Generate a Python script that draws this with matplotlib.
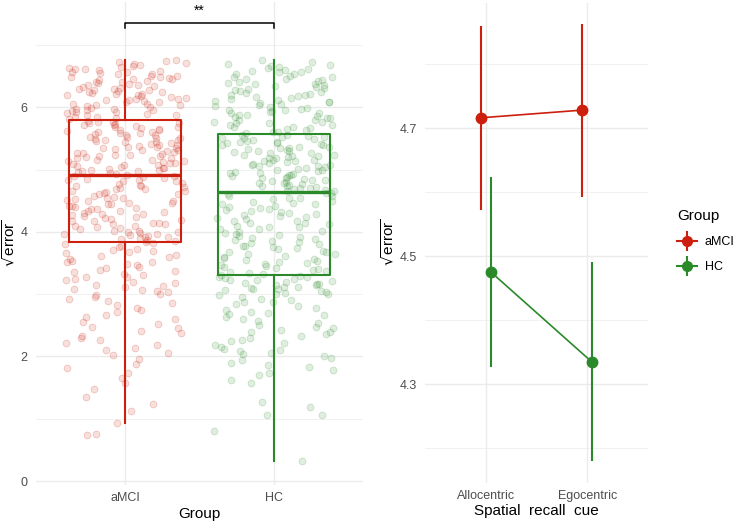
import matplotlib
matplotlib.use("Agg")
import matplotlib.pyplot as plt
from matplotlib.lines import Line2D
from matplotlib.legend_handler import HandlerTuple
import numpy as np

plt.rcParams["font.family"] = ["Liberation Sans", "DejaVu Sans"]
plt.rcParams["mathtext.fontset"] = "dejavusans"

RED = "#CD1F0D"
GREEN = "#2A8A2A"
GRID = "#EBEBEB"
TICK = "#4D4D4D"

# ---- left panel: sqrt(error) per participant group ----
groups = ["aMCI", "HC"]

amci_points = [
    0.74, 0.75, 0.93, 1.12, 1.24, 1.35, 1.48, 1.57, 1.66, 1.73, 1.81, 1.88, 1.96,
    2.02, 2.05, 2.10, 2.14, 2.18, 2.21, 2.26, 2.30, 2.33, 2.37, 2.41, 2.45, 2.48,
    2.52, 2.56, 2.60, 2.63, 2.67, 2.71, 2.74, 2.78, 2.82, 2.86, 2.89, 2.93, 2.96, 2.99,
    3.01, 3.03, 3.06, 3.08, 3.11, 3.13, 3.15, 3.18, 3.20, 3.23, 3.25, 3.27, 3.30,
    3.32, 3.35, 3.37, 3.39, 3.42, 3.44, 3.47, 3.49, 3.51, 3.54, 3.56, 3.59, 3.61,
    3.63, 3.66, 3.68, 3.71, 3.73, 3.75, 3.78, 3.80, 3.82, 3.83, 3.05, 3.28, 3.52, 3.70,
    3.85, 3.88, 3.90, 3.93, 3.96, 3.98, 4.01, 4.04, 4.06, 4.09, 4.12, 4.14, 4.17,
    4.20, 4.22, 4.25, 4.28, 4.30, 4.33, 4.36, 4.38, 4.41, 4.44, 4.46, 4.49, 4.52,
    4.54, 4.57, 4.60, 4.62, 4.65, 4.68, 4.70, 4.73, 4.76, 4.78, 4.81, 4.84, 4.86, 4.89,
    3.87, 3.92, 3.97, 4.02, 4.08, 4.13, 4.18, 4.24, 4.29, 4.34, 4.40, 4.45, 4.50,
    4.56, 4.61, 4.66, 4.72, 4.77, 4.82, 4.88, 3.91, 4.00, 4.10, 4.19, 4.27, 4.37,
    4.47, 4.55, 4.64, 4.74, 4.83, 4.90, 3.95, 4.15, 4.32, 4.51, 4.69, 4.85, 3.99, 4.42,
    4.92, 4.95, 4.97, 4.99, 5.02, 5.04, 5.06, 5.09, 5.11, 5.13, 5.16, 5.18, 5.20,
    5.23, 5.25, 5.27, 5.30, 5.32, 5.34, 5.37, 5.39, 5.41, 5.44, 5.46, 5.48, 5.51,
    5.53, 5.55, 5.58, 5.60, 5.62, 5.65, 5.67, 5.69, 5.72, 5.74, 5.76, 5.78,
    4.93, 4.98, 5.01, 5.07, 5.10, 5.15, 5.19, 5.22, 5.28, 5.31, 5.35, 5.40, 5.43,
    5.47, 5.50, 5.56, 5.59, 5.63, 5.68, 5.71, 5.75, 4.96, 5.03, 5.08, 5.14, 5.21,
    5.26, 5.33, 5.38, 5.45, 5.52, 5.57, 5.64, 5.70, 5.77, 5.00, 5.12, 5.24, 5.36,
    5.49, 5.61, 5.73,
    5.81, 5.84, 5.85, 5.88, 5.90, 5.93, 5.95, 5.96, 5.99, 6.02, 6.03, 6.05, 6.08,
    6.09, 6.12, 6.13, 6.15, 6.18, 6.20, 6.21, 6.24, 6.26, 6.27, 6.30, 6.33, 6.34,
    6.36, 6.39, 6.41, 6.42, 6.45, 6.47, 6.50, 6.51, 6.54, 6.56, 6.58, 6.61, 6.63,
    6.66, 6.68, 6.71, 6.73, 6.76, 5.82, 5.87, 5.92, 5.98, 6.00, 6.06, 6.11, 6.16,
    6.19, 6.23, 6.28, 6.31, 6.37, 6.40, 6.44, 6.48, 6.53, 6.57, 6.60, 6.64, 6.69,
    6.74, 5.89, 5.97, 6.04, 6.14, 6.22, 6.29, 6.35, 6.46, 6.55, 6.62, 5.94, 6.10,
    6.25, 6.49,
]
hc_points = [
    0.32, 0.80, 1.06, 1.06, 1.19, 1.27, 1.57, 1.62, 1.70, 1.74, 1.78, 1.83, 1.86,
    1.90, 1.94, 1.98,
    2.01, 2.04, 2.06, 2.09, 2.12, 2.15, 2.18, 2.21, 2.24, 2.27, 2.30, 2.33, 2.36,
    2.39, 2.42, 2.45, 2.48, 2.51, 2.54, 2.57, 2.60, 2.63, 2.66, 2.69, 2.72, 2.75,
    2.78, 2.81, 2.84, 2.87, 2.90, 2.93, 2.96, 2.99, 2.11, 2.40, 2.68, 2.88,
    3.00, 3.02, 3.03, 3.05, 3.06, 3.08, 3.09, 3.11, 3.12, 3.14, 3.15, 3.17, 3.18,
    3.20, 3.21, 3.23, 3.24, 3.26, 3.27, 3.29, 3.30, 3.01, 3.10, 3.16, 3.22, 3.28,
    3.32, 3.35, 3.38, 3.42, 3.45, 3.48, 3.52, 3.55, 3.58, 3.62, 3.65, 3.68, 3.72,
    3.75, 3.78, 3.82, 3.85, 3.88, 3.92, 3.95, 3.98, 4.02, 4.05, 4.08, 4.12, 4.15,
    4.18, 4.22, 4.25, 4.28, 4.32, 4.35, 4.38, 4.42, 4.45, 4.48, 4.52, 4.55, 4.58, 4.62,
    3.34, 3.40, 3.47, 3.54, 3.60, 3.67, 3.74, 3.80, 3.87, 3.94, 4.00, 4.07, 4.14,
    4.20, 4.27, 4.34, 4.40, 4.47, 4.54, 4.60, 3.37, 3.50, 3.64, 3.77, 3.90, 4.04,
    4.17, 4.30, 4.44, 4.57, 3.44, 3.70, 3.97, 4.24, 4.50, 3.57, 3.84, 4.10, 4.37, 4.63,
    4.65, 4.67, 4.70, 4.72, 4.74, 4.77, 4.79, 4.81, 4.84, 4.86, 4.88, 4.91, 4.93,
    4.95, 4.98, 5.00, 5.02, 5.05, 5.07, 5.09, 5.12, 5.14, 5.16, 5.19, 5.21, 5.23,
    5.26, 5.28, 5.30, 5.33, 5.35, 5.37, 5.40, 5.42, 5.44, 5.47, 5.49, 5.51, 5.54, 5.56,
    4.66, 4.71, 4.76, 4.80, 4.85, 4.90, 4.94, 4.99, 5.04, 5.08, 5.13, 5.18, 5.22,
    5.27, 5.31, 5.36, 5.41, 5.45, 5.50, 5.55, 4.69, 4.78, 4.87, 4.96, 5.06, 5.15,
    5.24, 5.34, 5.43, 5.52, 4.73, 4.92, 5.10, 5.29, 5.46, 4.83, 5.01, 5.20, 5.39, 5.53,
    5.58, 5.61, 5.63, 5.66, 5.69, 5.72, 5.74, 5.77, 5.80, 5.83, 5.85, 5.88, 5.91,
    5.94, 5.96, 5.99, 6.02, 6.05, 6.07, 6.10, 6.13, 6.16, 6.18, 6.21, 6.24, 6.27,
    6.29, 6.32, 6.35, 6.38, 6.40, 6.43, 6.46, 6.49, 6.51, 6.54, 6.57, 6.60, 6.63,
    6.66, 6.69, 6.72, 6.76, 5.60, 5.65, 5.71, 5.76, 5.82, 5.87, 5.93, 5.98, 6.04,
    6.09, 6.15, 6.20, 6.26, 6.31, 6.37, 6.42, 6.48, 6.53, 6.59, 6.64, 5.68, 5.79,
    5.90, 6.01, 6.12, 6.23, 6.34, 6.45, 6.56, 6.68, 5.75, 5.95, 6.19, 6.39, 6.61,
    5.86, 6.08,
]

# box summaries
box_whislo = [0.93, 0.32]
box_q1 = [3.84, 3.31]
box_med = [4.91, 4.64]
box_q3 = [5.79, 5.57]
box_whishi = [6.76, 6.76]
signif_label = "**"

# ---- right panel: mean +/- CI by recall cue ----
cues = ["Allocentric", "Egocentric"]
amci_mean = [4.716, 4.728]
amci_lo = [4.572, 4.592]
amci_hi = [4.859, 4.862]
hc_mean = [4.475, 4.334]
hc_lo = [4.327, 4.180]
hc_hi = [4.623, 4.491]


def style_axis(ax):
    ax.set_facecolor("white")
    for s in ax.spines.values():
        s.set_visible(False)
    ax.tick_params(length=0, labelsize=9, labelcolor=TICK)
    ax.tick_params(axis="y", pad=6)
    ax.tick_params(axis="x", pad=5)
    ax.grid(True, which="major", color=GRID, lw=1.0, zorder=0)
    ax.grid(True, which="minor", axis="y", color=GRID, lw=0.5, zorder=0)
    ax.set_axisbelow(True)


def jitter_offsets(n, width=0.82, seed=0.0):
    # deterministic sine-hash spread in place of ggplot's jitter
    k = np.arange(n) + seed
    u = np.abs(np.sin(k * 12.9898 + 78.233) * 43758.5453) % 1.0
    return (u - 0.5) * width


fig = plt.figure(figsize=(7.36, 5.21), dpi=100)
ax1 = fig.add_axes([36 / 736, 36 / 521, 327 / 736, 483 / 521])
ax2 = fig.add_axes([425 / 736, 38.4 / 521, 223 / 736, 480 / 521])

style_axis(ax1)
colors = [RED, GREEN]
for i, (pts, c) in enumerate(zip([amci_points, hc_points], colors)):
    pts = np.array(pts)
    offs = jitter_offsets(len(pts), seed=i * 1000.0)
    ax1.scatter(i + 1 + offs, pts, s=24, facecolor=matplotlib.colors.to_rgba(c, 0.14),
                edgecolor=matplotlib.colors.to_rgba(c, 0.22), lw=0.6, zorder=1)

stats = []
for i in range(2):
    stats.append(dict(med=box_med[i], q1=box_q1[i], q3=box_q3[i],
                      whislo=box_whislo[i], whishi=box_whishi[i], fliers=[]))
bp = ax1.bxp(stats, positions=[1, 2], widths=0.75, showcaps=False, patch_artist=False,
             manage_ticks=False, zorder=3)
for i, c in enumerate(colors):
    bp["boxes"][i].set(color=c, lw=1.5)
    bp["medians"][i].set(color=c, lw=2.4)
    for w in bp["whiskers"][2 * i:2 * i + 2]:
        w.set(color=c, lw=1.5)

ax1.plot([1, 1, 2, 2], [7.27, 7.35, 7.35, 7.27], color="black", lw=1.1, zorder=3)
ax1.text(1.5, 7.55, signif_label, ha="center", va="center", fontsize=10)

ax1.set_xlim(0.4, 2.6)
ax1.set_ylim(-0.064, 7.69)
ax1.set_xticks([1, 2])
ax1.set_xticklabels(groups)
ax1.set_yticks([0, 2, 4, 6])
ax1.set_yticks([1, 3, 5, 7], minor=True)
ax1.tick_params(which="minor", length=0)
ax1.set_xlabel("Group", fontsize=11, labelpad=2)
ax1.set_ylabel(r"$\sqrt{\mathregular{error}}$", fontsize=11, labelpad=2)

style_axis(ax2)
x = np.array([1, 2])
for mean, lo, hi, c, d in [(amci_mean, amci_lo, amci_hi, RED, -0.05),
                           (hc_mean, hc_lo, hc_hi, GREEN, 0.05)]:
    xx = x + d
    ax2.plot(xx, mean, color=c, lw=1.2, zorder=3)
    ax2.vlines(xx, lo, hi, color=c, lw=1.5, zorder=3)
    ax2.plot(xx, mean, "o", color=c, ms=7.5, zorder=4)

ax2.set_xlim(0.4, 2.6)
ax2.set_ylim(4.146, 4.896)
ax2.set_xticks([1, 2])
ax2.set_xticklabels(cues)
ax2.set_yticks([4.3, 4.5, 4.7])
ax2.set_yticklabels(["4.3", "4.5", "4.7"])
ax2.set_yticks([4.2, 4.4, 4.6, 4.8], minor=True)
ax2.tick_params(which="minor", length=0)
ax2.set_xlabel("Spatial  recall  cue", fontsize=11, labelpad=2)
ax2.set_ylabel(r"$\sqrt{\mathregular{error}}$", fontsize=11, labelpad=2)

handles = []
for c in colors:
    h1 = Line2D([], [], color=c, lw=1.5, marker="o", ms=7)
    h2 = Line2D([], [], color=c, lw=0, marker="|", ms=14, mew=1.5)
    handles.append((h1, h2))
leg = fig.legend(handles, groups, handler_map={tuple: HandlerTuple(ndivide=1)},
                 loc="upper left", bbox_to_anchor=(666 / 736, 1 - 198 / 521),
                 frameon=False, title="Group", fontsize=9, title_fontsize=11,
                 handlelength=1.6, handletextpad=0.6, labelspacing=1.05)
leg._legend_box.align = "left"

fig.savefig("out.png", dpi=100, facecolor="white")
